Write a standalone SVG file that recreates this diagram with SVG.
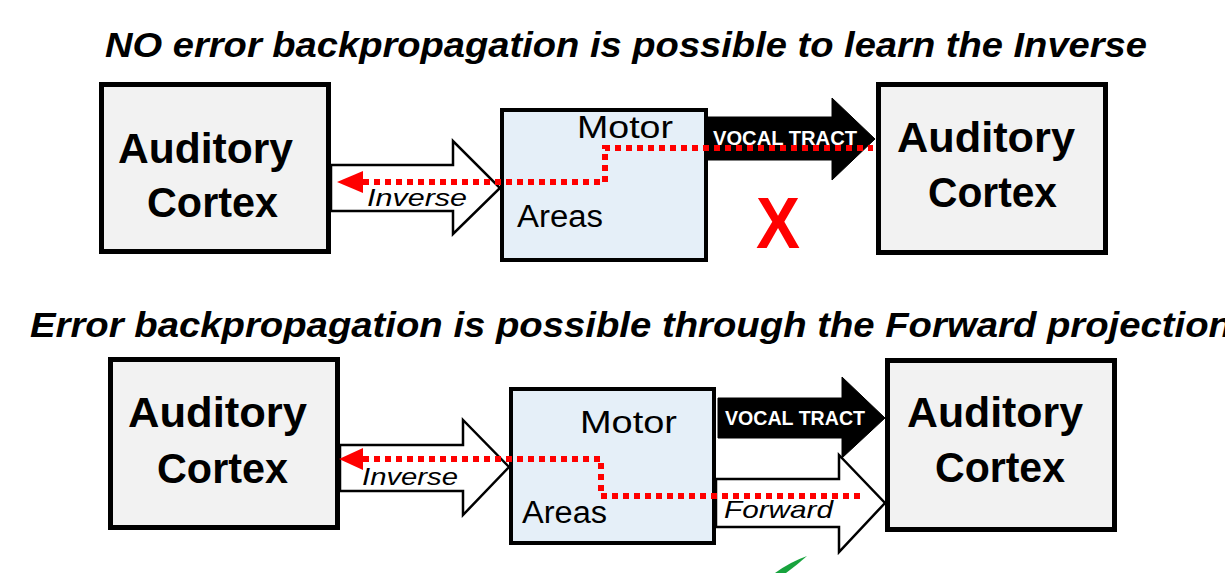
<svg xmlns="http://www.w3.org/2000/svg" width="1225" height="573" viewBox="0 0 1225 573">
<style>
.title{font-family:"Liberation Sans",Arial,sans-serif;font-weight:bold;font-style:italic;font-size:35px;fill:#000}
.aud{fill:#f2f2f2;stroke:#000;stroke-width:5}
.mot{fill:#e5eff8;stroke:#000;stroke-width:4}
.big{font-family:"Liberation Sans",Arial,sans-serif;font-weight:bold;font-size:42px;fill:#000}
.mid{font-family:"Liberation Sans",Arial,sans-serif;font-size:31px;fill:#000}
.lbl{font-family:"Liberation Sans",Arial,sans-serif;font-style:italic;font-size:24px;fill:#000}
.vt{font-family:"Liberation Sans",Arial,sans-serif;font-weight:bold;font-size:20px;fill:#fff}
.hollow{fill:#fff;stroke:#000;stroke-width:2.5;stroke-linejoin:miter}
.solid{fill:#000;stroke:#000;stroke-width:1}
.err{fill:none;stroke:#ff0000;stroke-width:6;stroke-dasharray:6 5}
.errhead{fill:#ff0000}
</style>
<rect width="1225" height="573" fill="#fff"/>
<g id="titles">
<text class="title" x="105" y="57" textLength="1042" lengthAdjust="spacingAndGlyphs">NO error backpropagation is possible to learn the Inverse</text>
<text class="title" x="30" y="337" textLength="1202" lengthAdjust="spacingAndGlyphs">Error backpropagation is possible through the Forward projection</text>
</g>
<g id="aud-top-left">
<rect class="aud" x="101.5" y="84.5" width="227" height="167"/>
<text class="big" x="118" y="163" textLength="175" lengthAdjust="spacingAndGlyphs">Auditory</text>
<text class="big" x="147" y="217" textLength="131" lengthAdjust="spacingAndGlyphs">Cortex</text>
</g>
<g id="aud-top-right">
<rect class="aud" x="878.5" y="84.5" width="227" height="168"/>
<text class="big" x="897" y="152" textLength="178" lengthAdjust="spacingAndGlyphs">Auditory</text>
<text class="big" x="928" y="207" textLength="129" lengthAdjust="spacingAndGlyphs">Cortex</text>
</g>
<g id="aud-bottom-left">
<rect class="aud" x="110.5" y="359.5" width="227" height="168"/>
<text class="big" x="128" y="427" textLength="179" lengthAdjust="spacingAndGlyphs">Auditory</text>
<text class="big" x="157" y="483" textLength="131" lengthAdjust="spacingAndGlyphs">Cortex</text>
</g>
<g id="aud-bottom-right">
<rect class="aud" x="887.5" y="360.5" width="227" height="169"/>
<text class="big" x="907" y="427" textLength="176" lengthAdjust="spacingAndGlyphs">Auditory</text>
<text class="big" x="935" y="482" textLength="130" lengthAdjust="spacingAndGlyphs">Cortex</text>
</g>
<g id="motor-top">
<rect class="mot" x="502" y="110" width="204" height="150"/>
<text class="mid" x="577" y="138" textLength="96" lengthAdjust="spacingAndGlyphs">Motor</text>
<text class="mid" x="517" y="227" textLength="86" lengthAdjust="spacingAndGlyphs">Areas</text>
</g>
<g id="motor-bottom">
<rect class="mot" x="511" y="389" width="203" height="154"/>
<text class="mid" x="580" y="433" textLength="97" lengthAdjust="spacingAndGlyphs">Motor</text>
<text class="mid" x="522" y="523" textLength="85" lengthAdjust="spacingAndGlyphs">Areas</text>
</g>
<g id="connectors">
<polygon class="hollow" points="331,165 453,165 453,141 500,188 453,234 453,211 331,211"/>
<text class="lbl" x="367" y="206" textLength="100" lengthAdjust="spacingAndGlyphs">Inverse</text>
<polygon class="solid" points="708,117 832,117 832,98 875,139 832,180 832,160 708,160"/>
<text class="vt" x="713" y="145" textLength="144" lengthAdjust="spacingAndGlyphs">VOCAL TRACT</text>
<polygon class="hollow" points="340,445 463,445 463,420 509,467 463,515 463,491 340,491"/>
<text class="lbl" x="362" y="485" textLength="96" lengthAdjust="spacingAndGlyphs">Inverse</text>
<polygon class="solid" points="718,398 842,398 842,377 885,418 842,458 842,438 718,438"/>
<text class="vt" x="725" y="425" textLength="140" lengthAdjust="spacingAndGlyphs">VOCAL TRACT</text>
<polygon class="hollow" points="716,479 839,479 839,455 885,503 839,552 839,527 716,527"/>
<text class="lbl" x="724" y="518" textLength="109" lengthAdjust="spacingAndGlyphs">Forward</text>
<path class="err" d="M363,182 H605 V148 H873"/>
<polygon class="errhead" points="337,182 363,171 363,193"/>
<path class="err" d="M363,459 H601 V496 H863"/>
<polygon class="errhead" points="339,459 363,448 363,470"/>
</g>
<g id="marks">
<text x="756" y="248" font-family="Liberation Sans, Arial, sans-serif" font-weight="bold" font-size="72" fill="#ff0000" textLength="44" lengthAdjust="spacingAndGlyphs">X</text>
<path d="M775,573 Q790,562 807,556 Q797,565 786,573 Z" fill="#17a33d"/>
</g>
</svg>
